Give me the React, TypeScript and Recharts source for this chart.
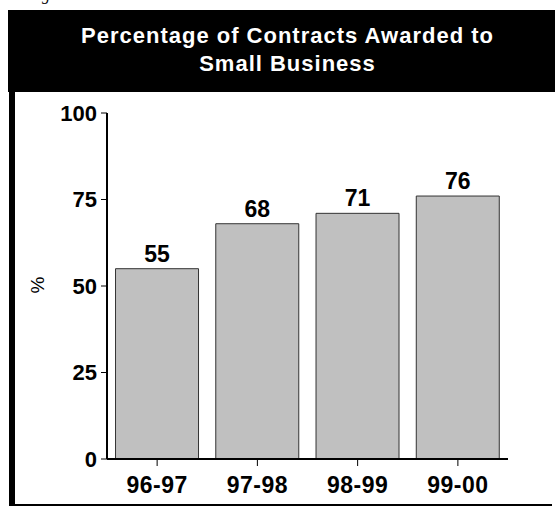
import React from 'react';
import { BarChart, Bar, XAxis, YAxis, LabelList } from 'recharts';

const periods = ['96-97', '97-98', '98-99', '99-00'];
const percentAwarded = [55, 68, 71, 76];
const yTicks = [0, 25, 50, 75, 100];

const data = periods.map((period, i) => ({ period, value: percentAwarded[i] }));

const FONT = '"Liberation Sans", Arial, Helvetica, sans-serif';

const App: React.FC = () => {
  return (
    <div
      style={{
        position: 'absolute',
        left: 0,
        top: 0,
        width: 555,
        height: 506,
        background: '#fff',
        overflow: 'hidden',
        fontFamily: FONT,
      }}
    >
      {/* tail of a glyph from the page above, cropped like the original */}
      <div
        style={{
          position: 'absolute',
          left: 42,
          top: -13,
          fontFamily: '"Liberation Serif", serif',
          fontStyle: 'italic',
          fontSize: 16,
          lineHeight: '16px',
          color: '#000',
        }}
      >
        g
      </div>

      {/* title box */}
      <div
        style={{
          position: 'absolute',
          left: 8,
          top: 10,
          width: 547,
          height: 82,
          background: '#000',
          color: '#fff',
          fontWeight: 'bold',
          fontSize: 22,
          letterSpacing: 1,
          lineHeight: '28px',
          textAlign: 'center',
          boxSizing: 'border-box',
          paddingTop: 12,
          paddingLeft: 12,
        }}
      >
        Percentage of Contracts Awarded to
        <br />
        Small Business
      </div>

      {/* frame: left bar and bottom rule */}
      <div style={{ position: 'absolute', left: 9, top: 92, width: 6, height: 414, background: '#000' }} />
      <div style={{ position: 'absolute', left: 9, top: 504, width: 543, height: 2, background: '#000' }} />

      {/* y axis title */}
      <div
        style={{
          position: 'absolute',
          left: 38,
          top: 285,
          transform: 'translate(-50%, -50%) rotate(-90deg)',
          fontSize: 19,
          color: '#000',
        }}
      >
        %
      </div>

      <div style={{ position: 'absolute', left: 0, top: 0 }}>
        <BarChart
          width={555}
          height={506}
          data={data}
          margin={{ top: 113, right: 47, left: 47, bottom: 7 }}
          barCategoryGap="8.5%"
        >
          <XAxis
            dataKey="period"
            height={40}
            axisLine={{ stroke: '#000', strokeWidth: 2 }}
            tickLine={{ stroke: '#000', strokeWidth: 1 }}
            tickSize={7}
            tickMargin={11}
            tick={{ fill: '#000', fontSize: 23, fontWeight: 'bold', fontFamily: FONT, letterSpacing: 0.5 }}
          />
          <YAxis
            width={60}
            domain={[0, 100]}
            ticks={yTicks}
            interval={0}
            axisLine={{ stroke: '#000', strokeWidth: 2 }}
            tickLine={{ stroke: '#000', strokeWidth: 1 }}
            tickSize={6}
            tickMargin={4}
            tick={{ fill: '#000', fontSize: 22, fontWeight: 'bold', fontFamily: FONT }}
          />
          <Bar dataKey="value" fill="#c0c0c0" stroke="#333" strokeWidth={1} isAnimationActive={false}>
            <LabelList
              dataKey="value"
              position="top"
              offset={7}
              fill="#000"
              fontSize={23}
              fontWeight="bold"
              fontFamily={FONT}
            />
          </Bar>
        </BarChart>
      </div>
    </div>
  );
};

export default App;
